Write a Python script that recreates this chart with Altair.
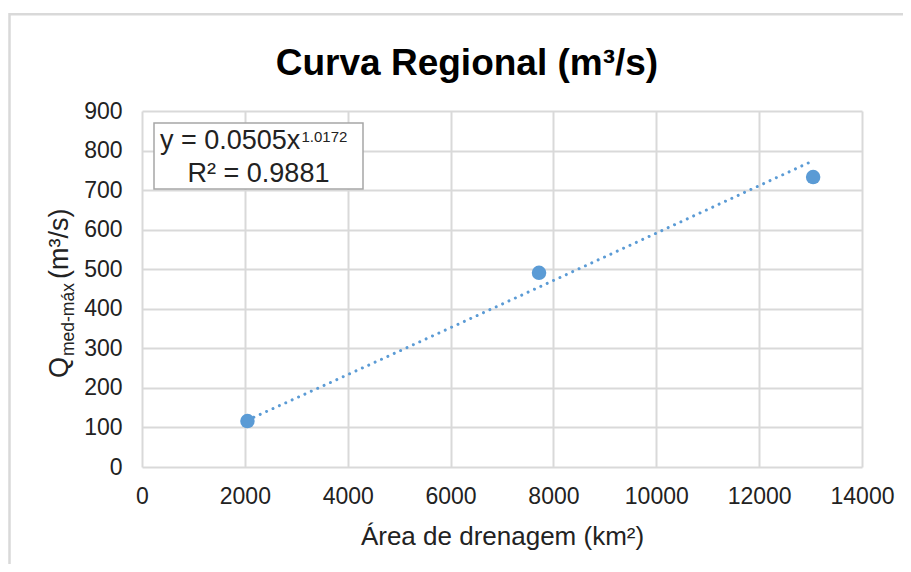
import altair as alt
import pandas as pd

# ---- data ----
area_km2 = [2050, 7720, 13050]
vazao_m3s = [116, 491, 733]
x_ticks = [0, 2000, 4000, 6000, 8000, 10000, 12000, 14000]
y_ticks = [0, 100, 200, 300, 400, 500, 600, 700, 800, 900]

title_text = "Curva Regional (m³/s)"
x_title = "Área de drenagem (km²)"
y_title_main = "Q"
y_title_sub = "med-máx"
y_title_unit = "(m³/s)"
eq_main = "y = 0.0505x"
eq_exp = "1.0172"
eq_r2 = "R² = 0.9881"

FONT = "Liberation Sans"
BLUE = "#5B9BD5"
GRID = "#d9d9d9"
TXT = "#222222"

df = pd.DataFrame({"area": area_km2, "vazao": vazao_m3s})

xs = alt.Scale(domain=[0, 14000], nice=False)
ys = alt.Scale(domain=[0, 900], nice=False)

x_enc = alt.X("area:Q", scale=xs,
              axis=alt.Axis(values=x_ticks, title=x_title, format="d", labelFlush=False,
                            titleFontSize=26, titleFont=FONT, titleFontWeight="normal",
                            titleColor=TXT, titlePadding=15))
y_enc = alt.Y("vazao:Q", scale=ys,
              axis=alt.Axis(values=y_ticks, title="", format="d", labelFlush=False))

base = alt.Chart(df)

trend = base.transform_regression("area", "vazao", method="pow").mark_line(
    color=BLUE, strokeWidth=3, strokeDash=[0.01, 7], strokeCap="round"
).encode(x=x_enc, y=y_enc)

points = base.mark_circle(size=210, color=BLUE, opacity=1).encode(x=x_enc, y=y_enc)


def label(txt, x, y, size, align="left", angle=0, weight="normal", color=TXT):
    kw = dict(font=FONT, fontSize=size, align=align, baseline="alphabetic",
              fontWeight=weight, color=color)
    if angle:
        kw["angle"] = angle
    return alt.Chart(pd.DataFrame({"t": [txt]})).mark_text(**kw).encode(
        text="t:N", x=alt.value(x), y=alt.value(y))


frame = alt.Chart(pd.DataFrame({"k": [0]})).mark_rect(
    fillOpacity=0, stroke=GRID, strokeWidth=2.5
).encode(x=alt.value(-132.5), x2=alt.value(900), y=alt.value(-96.7), y2=alt.value(600))

eq_box = alt.Chart(pd.DataFrame({"k": [0]})).mark_rect(
    fill="white", stroke="#a6a6a6", strokeWidth=1.5
).encode(x=alt.value(12), x2=alt.value(221), y=alt.value(12), y2=alt.value(78))

layers = [
    frame,
    trend,
    points,
    eq_box,
    label(eq_main, 18, 38, 27),
    label(eq_exp, 159.5, 31, 15),
    label(eq_r2, 116.5, 71, 27, align="center"),
    label(title_text, 325, -36, 37, align="center", weight="bold", color="#000000"),
    label(y_title_main, -74, 267, 27, angle=270),
    label(y_title_sub, -68, 245, 17.5, angle=270),
    label(y_title_unit, -74, 168, 27, angle=270),
]

chart = alt.layer(*layers).properties(
    width=720, height=356,
    autosize=alt.AutoSizeParams(type="none"),
    padding={"left": 134, "top": 103, "right": 41, "bottom": 97},
    background="white",
).configure_view(stroke=None).configure_axis(
    grid=True, gridColor=GRID, gridWidth=2, domain=False, ticks=False,
    labelFont=FONT, labelFontSize=23, labelColor=TXT,
).configure_axisX(labelPadding=18).configure_axisY(labelPadding=20)

chart.save("out.html", embed_options={"renderer": "svg", "actions": False})
